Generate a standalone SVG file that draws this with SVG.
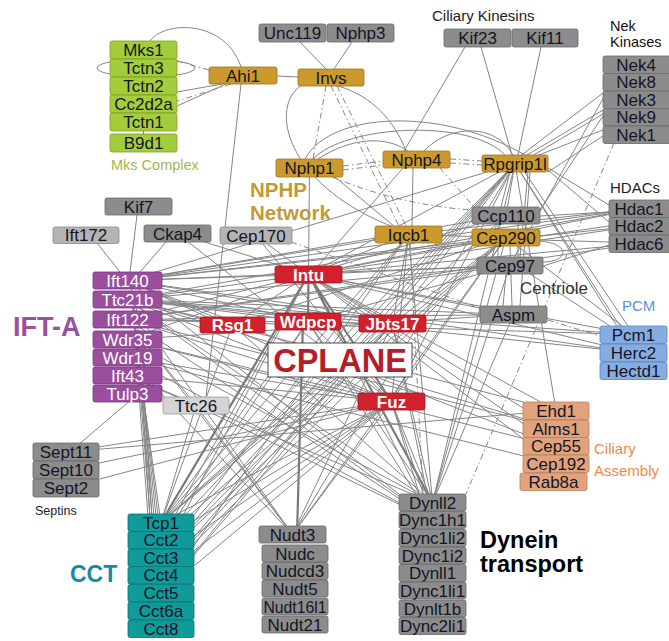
<svg xmlns="http://www.w3.org/2000/svg" width="669" height="641" viewBox="0 0 669 641">
<style>
.e{fill:none;stroke:#858585;stroke-width:1}
.e .k{stroke-width:2.2;stroke:#7a7a7a}
.e .d{stroke-dasharray:6 3 1.5 3}
rect{stroke-width:0.8}
.gr{fill:#a3cd3a;stroke:#7f9f2a}
.go{fill:#cc9a2c;stroke:#9c7420}
.gy{fill:#8c8c8c;stroke:#6a6a6a}
.lg{fill:#b4b4b4;stroke:#8a8a8a}
.vl{fill:#d4d4d4;stroke:#9a9a9a}
.pu{fill:#9b4e9e;stroke:#7a3880}
.rd{fill:#d2202c;stroke:#a8141e}
.bl{fill:#85ade2;stroke:#5c86c0}
.or{fill:#e2a37c;stroke:#b88060}
.te{fill:#109a9a;stroke:#0b7272}
text{font-family:"Liberation Sans",Arial,Helvetica,sans-serif}
.t{font-size:17px;text-anchor:middle;fill:#151525}
.w{fill:#fff}
.b{font-weight:bold}
</style>
<rect x="0" y="0" width="669" height="641" fill="#fff" stroke="none"/>
<g id="connectors" class="e">
<path d="M222 84L177 92M226 84L177 106"/>
<path class="d" d="M177 61L209 70"/>
<path class="d" d="M231 84Q200 94 177 101"/>
<ellipse cx="146" cy="68" rx="49" ry="9"/>
<path d="M143.5 131V134"/>
<path d="M150 41C165 20 226 20 241 67"/>
<path d="M241 84L206 397"/>
<path d="M277 76L298 77M300 42L326 69M352 42L334 69"/>
<path d="M97 243L120 272M137 215L130 272M166 242L140 272"/>
<path d="M302 85C268 106 285 186 396 228"/>
<path d="M338 86C372 96 394 120 406 151"/>
<path d="M313 159C345 125 470 118 505 155"/>
<path d="M318 159C350 138 385 135 408 151"/>
<path d="M424 151C448 125 495 122 513 155"/>
<path d="M305 159C330 112 440 106 525 155"/>
<path class="d" d="M343 166L383 161M343 170L383 165M450 159L482 161M450 163L482 165"/>
<path d="M335 177L395 227M413 168L412 226M403 168L318 266"/>
<path class="d" d="M326 86L313 159M331 86L399 226M337 86L406 226"/>
<path class="d" d="M332 177Q400 205 472 210"/>
<path class="d" d="M440 168L474 207"/>
<path d="M465 47L404 151M481 47L512 155M541 47L518 155"/>
<path d="M603 93L515 160M603 110L517 161M603 114L520 163M603 130L521 162M605 95L510 265M603 116L540 210M603 136L548 172"/>
<path class="d" d="M614 143L466 494"/>
<path d="M609 205L548 168M609 222L548 170M639 208.5L127.5 299.5M639 208.5L408.5 234.5M609 212L540 216M609 226L540 236M609 245L543 266M609 242L540 240M639 208.5L127.5 280.5M639 243.5L127.5 319.5M639 225.5L308.5 274.5M639 243.5L308.5 274.5M639 208.5L308.5 274.5"/>
<path d="M308.5 274.5L127.5 280.5M308.5 274.5L127.5 299.5M308.5 274.5L127.5 319.5M308.5 274.5L127.5 339.5M308.5 274.5L177.5 233.5M308.5 274.5L256 235.5M308.5 274.5L408.5 234.5M308.5 274.5L506 215.5M308.5 274.5L506 237.5M308.5 274.5L510 265.5M308.5 274.5L515 163.5M308.5 274.5L513.5 314.5M308.5 274.5L633.5 334.5M308.5 274.5L633.5 352.5M308.5 274.5L232.5 325M308.5 274.5L392.5 323.5M308.5 274.5L161 540.5M308.5 274.5L161 558M308.5 274.5L432.5 520.5M308.5 274.5L556 410.5M308.5 274.5L556 428.5M308.5 274.5L556 446.5M308.5 274.5L309.5 168"/>
<path class="k" d="M308.5 274.5L308 321.5M308.5 274.5L161 522.5M308.5 274.5L391.5 401.5M308.5 274.5L432.5 502.5M303 321.5L297 534.5"/>
<path d="M308 321.5L161 522.5M308 321.5L161 540.5M308 321.5L432.5 502.5M308 321.5L391.5 401.5M308 321.5L127.5 280.5M308 321.5L127.5 299.5M308 321.5L510 265.5M308 321.5L432.5 520.5"/>
<path d="M232.5 325L127.5 280.5M232.5 325L127.5 299.5M232.5 325L161 522.5M232.5 325L432.5 502.5M232.5 325L506 237.5"/>
<path d="M392.5 323.5L127.5 280.5M392.5 323.5L127.5 299.5M392.5 323.5L127.5 319.5M392.5 323.5L161 522.5M392.5 323.5L161 558M392.5 323.5L432.5 502.5M392.5 323.5L432.5 520.5M392.5 323.5L506 237.5M392.5 323.5L515 163.5M392.5 323.5L408.5 234.5"/>
<path d="M391.5 401.5L161 522.5M391.5 401.5L161 540.5M391.5 401.5L161 558M391.5 401.5L161 575.5M391.5 401.5L161 593.5M391.5 401.5L292.5 534.5M391.5 401.5L432.5 502.5M391.5 401.5L432.5 520.5M391.5 401.5L432.5 538.5M391.5 401.5L66 452M391.5 401.5L66 470M391.5 401.5L66 488M391.5 401.5L515 163.5M391.5 401.5L506 237.5M391.5 401.5L408.5 234.5M391.5 401.5L127.5 280.5M391.5 401.5L127.5 299.5M391.5 401.5L127.5 319.5M391.5 401.5L127.5 339.5M391.5 401.5L127.5 357.5M391.5 401.5L127.5 375.5M391.5 401.5L177.5 233.5M391.5 401.5L256 235.5"/>
<path d="M131 285L148 516M133 300L150 516M135 320L152 516M137 340L154 516M139 358L156 516M141 376L158 516M143 394L160 516M136 300L151 534M140 330L153 534"/>
<path d="M131 400L78 445"/>
<path d="M196 405.5L161 522.5M196 405.5L292.5 534.5M196 405.5L432.5 520.5M127.5 375.5L196 405.5M127.5 319.5L196 405.5"/>
<path d="M127.5 299.5L510 265.5M127.5 299.5L633.5 334.5M127.5 299.5L633.5 352.5M127.5 299.5L556 410.5M127.5 299.5L432.5 502.5M127.5 299.5L432.5 520.5M127.5 299.5L513.5 314.5M127.5 299.5L292.5 534.5"/>
<path d="M127.5 280.5L506 237.5M127.5 280.5L510 265.5M127.5 280.5L515 163.5M127.5 280.5L408.5 234.5M127.5 280.5L633.5 352.5M127.5 280.5L639 225.5M127.5 280.5L556 446.5M127.5 280.5L506 215.5"/>
<path d="M127.5 319.5L513.5 314.5M127.5 319.5L556 428.5M127.5 319.5L432.5 520.5M127.5 319.5L510 265.5M127.5 319.5L292.5 534.5M127.5 319.5L633.5 334.5"/>
<path d="M127.5 339.5L556 446.5M127.5 339.5L432.5 502.5M127.5 339.5L513.5 314.5M127.5 357.5L556 464M127.5 357.5L292.5 534.5M127.5 357.5L432.5 520.5M127.5 375.5L432.5 502.5"/>
<path d="M66 452L556 410.5"/>
<path d="M161 522.5L515 163.5M161 522.5L506 237.5M161 522.5L408.5 234.5M161 522.5L506 215.5M161 540.5L515 163.5M161 540.5L506 237.5M161 558L408.5 234.5M161 558L506 237.5M161 558L515 163.5M161 575.5L515 163.5M161 575.5L506 237.5M161 575.5L392.5 323.5M161 593.5L392.5 323.5M161 593.5L408.5 234.5M161 593.5L515 163.5"/>
<path d="M292.5 534.5L392.5 323.5M292.5 534.5L515 163.5M292.5 534.5L506 237.5"/>
<path d="M432.5 502.5L506 237.5M432.5 502.5L510 265.5M432.5 502.5L515 163.5M432.5 502.5L408.5 234.5M432.5 502.5L513.5 314.5M432.5 520.5L127.5 280.5"/>
<path d="M556 464L308.5 274.5M556 410.5L515 163.5M556 428.5L127.5 299.5"/>
<path d="M498 215V265M518 215V265M510 245L512 306M506 274L503 306M506 237.5L408.5 234.5M506 237.5L633.5 334.5M495 230L510 172M506 215.5L515 163.5M520 257L528 172M520 306L530 172M530 274L610 326M515 163.5L620 326M520 165L628 326M515 163.5L633.5 352.5"/>
<path d="M540 241C572 244 568 262 543 262"/>
<path class="d" d="M548 320L600 336M291 242L480 308M410 243L423 494"/>
</g>
<g id="mks1"><rect class="gr" x="110" y="41" width="67" height="18" rx="2"/><text class="t" x="143.5" y="56">Mks1</text></g>
<g id="tctn3"><rect class="gr" x="110" y="59" width="67" height="18" rx="2"/><text class="t" x="143.5" y="74">Tctn3</text></g>
<g id="tctn2"><rect class="gr" x="110" y="77" width="67" height="18" rx="2"/><text class="t" x="143.5" y="92">Tctn2</text></g>
<g id="cc2d2a"><rect class="gr" x="110" y="95" width="67" height="18" rx="2"/><text class="t" x="143.5" y="110">Cc2d2a</text></g>
<g id="tctn1"><rect class="gr" x="110" y="113" width="67" height="18" rx="2"/><text class="t" x="143.5" y="128">Tctn1</text></g>
<g id="b9d1"><rect class="gr" x="110" y="134" width="67" height="18" rx="2"/><text class="t" x="143.5" y="149">B9d1</text></g>
<g id="ahi1"><rect class="go" x="209" y="67" width="68" height="17" rx="2"/><text class="t" x="243" y="81.5">Ahi1</text></g>
<g id="invs"><rect class="go" x="298" y="69" width="66" height="17" rx="2"/><text class="t" x="331" y="83.5">Invs</text></g>
<g id="unc119"><rect class="gy" x="259" y="24" width="67" height="18" rx="2"/><text class="t" x="292.5" y="39">Unc119</text></g>
<g id="nphp3"><rect class="gy" x="327" y="24" width="67" height="18" rx="2"/><text class="t" x="360.5" y="39">Nphp3</text></g>
<g id="kif23"><rect class="gy" x="444" y="29" width="67" height="18" rx="2"/><text class="t" x="477.5" y="44">Kif23</text></g>
<g id="kif11"><rect class="gy" x="512" y="29" width="66" height="18" rx="2"/><text class="t" x="545" y="44">Kif11</text></g>
<g id="nek4"><rect class="gy" x="603" y="56" width="68" height="17.5" rx="2"/><text class="t" x="636" y="70.7">Nek4</text></g>
<g id="nek8"><rect class="gy" x="603" y="73.5" width="68" height="17.5" rx="2"/><text class="t" x="636" y="88.2">Nek8</text></g>
<g id="nek3"><rect class="gy" x="603" y="91" width="68" height="17.5" rx="2"/><text class="t" x="636" y="105.7">Nek3</text></g>
<g id="nek9"><rect class="gy" x="603" y="108.5" width="68" height="17.5" rx="2"/><text class="t" x="636" y="123.2">Nek9</text></g>
<g id="nek1"><rect class="gy" x="603" y="126" width="68" height="17.5" rx="2"/><text class="t" x="636" y="140.7">Nek1</text></g>
<g id="nphp1"><rect class="go" x="276" y="159" width="67" height="18" rx="2"/><text class="t" x="309.5" y="174">Nphp1</text></g>
<g id="nphp4"><rect class="go" x="383" y="151" width="67" height="17" rx="2"/><text class="t" x="416.5" y="165.5">Nphp4</text></g>
<g id="rpgrip1l"><rect class="go" x="482" y="155" width="66" height="17" rx="2"/><text class="t" x="515" y="169.5">Rpgrip1l</text></g>
<g id="iqcb1"><rect class="go" x="375" y="226" width="67" height="17" rx="2"/><text class="t" x="408.5" y="240.5">Iqcb1</text></g>
<g id="ccp110"><rect class="gy" x="472" y="207" width="68" height="17" rx="2"/><text class="t" x="506" y="221.5">Ccp110</text></g>
<g id="cep290"><rect class="go" x="472" y="229" width="68" height="17" rx="2"/><text class="t" x="506" y="243.5">Cep290</text></g>
<g id="cep97"><rect class="gy" x="477" y="257" width="66" height="17" rx="2"/><text class="t" x="510" y="271.5">Cep97</text></g>
<g id="aspm"><rect class="gy" x="480" y="306" width="67" height="17" rx="2"/><text class="t" x="513.5" y="320.5">Aspm</text></g>
<g id="hdac1"><rect class="gy" x="609" y="200" width="62" height="17.5" rx="2"/><text class="t" x="639" y="214.7">Hdac1</text></g>
<g id="hdac2"><rect class="gy" x="609" y="217.5" width="62" height="17.5" rx="2"/><text class="t" x="639" y="232.2">Hdac2</text></g>
<g id="hdac6"><rect class="gy" x="609" y="235" width="62" height="17.5" rx="2"/><text class="t" x="639" y="249.7">Hdac6</text></g>
<g id="pcm1"><rect class="bl" x="600" y="326" width="67" height="17.5" rx="2"/><text class="t" x="633.5" y="340.7">Pcm1</text></g>
<g id="herc2"><rect class="bl" x="600" y="344" width="67" height="17.5" rx="2"/><text class="t" x="633.5" y="358.7">Herc2</text></g>
<g id="hectd1"><rect class="bl" x="600" y="362" width="67" height="17.5" rx="2"/><text class="t" x="633.5" y="376.7">Hectd1</text></g>
<g id="kif7"><rect class="gy" x="105" y="198" width="67" height="17" rx="2"/><text class="t" x="138.5" y="212.5">Kif7</text></g>
<g id="ift172"><rect class="lg" x="53" y="227" width="66" height="16.5" rx="2"/><text class="t" x="86" y="241.2">Ift172</text></g>
<g id="ckap4"><rect class="gy" x="144" y="225" width="67" height="17" rx="2"/><text class="t" x="177.5" y="239.5">Ckap4</text></g>
<g id="cep170"><rect class="lg" x="220" y="227" width="72" height="17" rx="2"/><text class="t" x="256" y="241.5">Cep170</text></g>
<g id="ift140"><rect class="pu" x="93" y="272" width="69" height="17" rx="2"/><text class="t w" x="127.5" y="286.5">Ift140</text></g>
<g id="ttc21b"><rect class="pu" x="93" y="291" width="69" height="17" rx="2"/><text class="t w" x="127.5" y="305.5">Ttc21b</text></g>
<g id="ift122"><rect class="pu" x="93" y="311" width="69" height="17" rx="2"/><text class="t w" x="127.5" y="325.5">Ift122</text></g>
<g id="wdr35"><rect class="pu" x="93" y="331" width="69" height="17" rx="2"/><text class="t w" x="127.5" y="345.5">Wdr35</text></g>
<g id="wdr19"><rect class="pu" x="93" y="349" width="69" height="17" rx="2"/><text class="t w" x="127.5" y="363.5">Wdr19</text></g>
<g id="ift43"><rect class="pu" x="93" y="367" width="69" height="17" rx="2"/><text class="t w" x="127.5" y="381.5">Ift43</text></g>
<g id="tulp3"><rect class="pu" x="93" y="385" width="69" height="17" rx="2"/><text class="t w" x="127.5" y="399.5">Tulp3</text></g>
<g id="intu"><rect class="rd" x="275" y="266" width="67" height="17" rx="2"/><text class="t w b" x="308.5" y="280.5">Intu</text></g>
<g id="rsg1"><rect class="rd" x="200" y="317" width="65" height="16" rx="2"/><text class="t w b" x="232.5" y="331">Rsg1</text></g>
<g id="wdpcp"><rect class="rd" x="275" y="313" width="66" height="17" rx="2"/><text class="t w b" x="308" y="327.5">Wdpcp</text></g>
<g id="jbts17"><rect class="rd" x="359" y="315" width="67" height="17" rx="2"/><text class="t w b" x="392.5" y="329.5">Jbts17</text></g>
<g id="cplane"><rect x="268" y="343" width="144" height="34" fill="#fff" stroke="#222" stroke-width="1.5"/><text x="340" y="371.5" text-anchor="middle" font-size="32.5" font-weight="bold" fill="#b51d2a">CPLANE</text></g>
<g id="fuz"><rect class="rd" x="358" y="393" width="67" height="17" rx="2"/><text class="t w b" x="391.5" y="407.5">Fuz</text></g>
<g id="ttc26"><rect class="vl" x="163" y="397" width="66" height="17" rx="2"/><text class="t" x="196" y="411.5">Ttc26</text></g>
<g id="sept11"><rect class="gy" x="33" y="443" width="66" height="18" rx="2"/><text class="t" x="66" y="458">Sept11</text></g>
<g id="sept10"><rect class="gy" x="33" y="461" width="66" height="18" rx="2"/><text class="t" x="66" y="476">Sept10</text></g>
<g id="sept2"><rect class="gy" x="33" y="479" width="66" height="18" rx="2"/><text class="t" x="66" y="494">Sept2</text></g>
<g id="tcp1"><rect class="te" x="128" y="514" width="66" height="17.5" rx="2"/><text class="t" x="161" y="528.7">Tcp1</text></g>
<g id="cct2"><rect class="te" x="128" y="531.5" width="66" height="17.5" rx="2"/><text class="t" x="161" y="546.2">Cct2</text></g>
<g id="cct3"><rect class="te" x="128" y="549" width="66" height="17.5" rx="2"/><text class="t" x="161" y="563.7">Cct3</text></g>
<g id="cct4"><rect class="te" x="128" y="566.5" width="66" height="17.5" rx="2"/><text class="t" x="161" y="581.2">Cct4</text></g>
<g id="cct5"><rect class="te" x="128" y="584.5" width="66" height="17.5" rx="2"/><text class="t" x="161" y="599.2">Cct5</text></g>
<g id="cct6a"><rect class="te" x="128" y="602" width="66" height="17.5" rx="2"/><text class="t" x="161" y="616.7">Cct6a</text></g>
<g id="cct8"><rect class="te" x="128" y="620" width="66" height="17.5" rx="2"/><text class="t" x="161" y="634.7">Cct8</text></g>
<g id="nudt3"><rect class="gy" x="259" y="526" width="67" height="17" rx="2"/><text class="t" x="292.5" y="540.5">Nudt3</text></g>
<g id="nudc"><rect class="gy" x="262" y="545" width="66" height="17" rx="2"/><text class="t" x="295" y="559.5">Nudc</text></g>
<g id="nudcd3"><rect class="gy" x="262" y="562.5" width="66" height="17" rx="2"/><text class="t" x="295" y="577">Nudcd3</text></g>
<g id="nudt5"><rect class="gy" x="262" y="580" width="66" height="17" rx="2"/><text class="t" x="295" y="594.5">Nudt5</text></g>
<g id="nudt16l1"><rect class="gy" x="262" y="598" width="66" height="17" rx="2"/><text class="t" x="295" y="612.5" textLength="63" lengthAdjust="spacingAndGlyphs">Nudt16l1</text></g>
<g id="nudt21"><rect class="gy" x="262" y="616" width="66" height="17" rx="2"/><text class="t" x="295" y="630.5">Nudt21</text></g>
<g id="dynll2"><rect class="gy" x="399" y="494" width="67" height="17" rx="2"/><text class="t" x="432.5" y="508.5">Dynll2</text></g>
<g id="dync1h1"><rect class="gy" x="399" y="511.5" width="67" height="17" rx="2"/><text class="t" x="432.5" y="526">Dync1h1</text></g>
<g id="dync1li2"><rect class="gy" x="399" y="529.5" width="67" height="17" rx="2"/><text class="t" x="432.5" y="544">Dync1li2</text></g>
<g id="dync1i2"><rect class="gy" x="399" y="547" width="67" height="17" rx="2"/><text class="t" x="432.5" y="561.5">Dync1i2</text></g>
<g id="dynll1"><rect class="gy" x="399" y="564.5" width="67" height="17" rx="2"/><text class="t" x="432.5" y="579">Dynll1</text></g>
<g id="dync1li1"><rect class="gy" x="399" y="582" width="67" height="17" rx="2"/><text class="t" x="432.5" y="596.5">Dync1li1</text></g>
<g id="dynlt1b"><rect class="gy" x="399" y="600" width="67" height="17" rx="2"/><text class="t" x="432.5" y="614.5">Dynlt1b</text></g>
<g id="dync2li1"><rect class="gy" x="399" y="617.5" width="67" height="17" rx="2"/><text class="t" x="432.5" y="632">Dync2li1</text></g>
<g id="ehd1"><rect class="or" x="523" y="402" width="66" height="17.5" rx="2"/><text class="t" x="556" y="416.7">Ehd1</text></g>
<g id="alms1"><rect class="or" x="523" y="420" width="66" height="17.5" rx="2"/><text class="t" x="556" y="434.7">Alms1</text></g>
<g id="cep55"><rect class="or" x="523" y="437.5" width="66" height="17.5" rx="2"/><text class="t" x="556" y="452.2">Cep55</text></g>
<g id="cep192"><rect class="or" x="523" y="455" width="66" height="17.5" rx="2"/><text class="t" x="556" y="469.7">Cep192</text></g>
<g id="rab8a"><rect class="or" x="520" y="473" width="67" height="17.5" rx="2"/><text class="t" x="553.5" y="487.7">Rab8a</text></g>
<g id="labels">
<text x="111" y="170" font-size="14.5" fill="#a3b84c">Mks Complex</text>
<text x="432" y="21" font-size="15" fill="#222">Ciliary Kinesins</text>
<text x="610" y="31" font-size="14.5" fill="#111">Nek</text>
<text x="610" y="47" font-size="14.5" fill="#111">Kinases</text>
<text x="250" y="196.5" font-size="20.5" font-weight="bold" fill="#c39a35">NPHP</text>
<text x="250" y="220" font-size="20.5" font-weight="bold" fill="#c39a35">Network</text>
<text x="610" y="193" font-size="15" fill="#222">HDACs</text>
<text x="520" y="294" font-size="17" fill="#333">Centriole</text>
<text x="622" y="311" font-size="15" fill="#5b8fd6">PCM</text>
<text x="13" y="336" font-size="27" font-weight="bold" fill="#9b50a0">IFT-A</text>
<text x="70" y="582" font-size="23" font-weight="bold" fill="#1888a8">CCT</text>
<text x="35" y="515" font-size="12.5" fill="#222">Septins</text>
<text x="480" y="548" font-size="23.5" font-weight="bold" fill="#000">Dynein</text>
<text x="480" y="572" font-size="23.5" font-weight="bold" fill="#000">transport</text>
<text x="594" y="454" font-size="15" fill="#f08a4b">Ciliary</text>
<text x="594" y="476" font-size="15" fill="#f08a4b">Assembly</text>
</g>
</svg>
